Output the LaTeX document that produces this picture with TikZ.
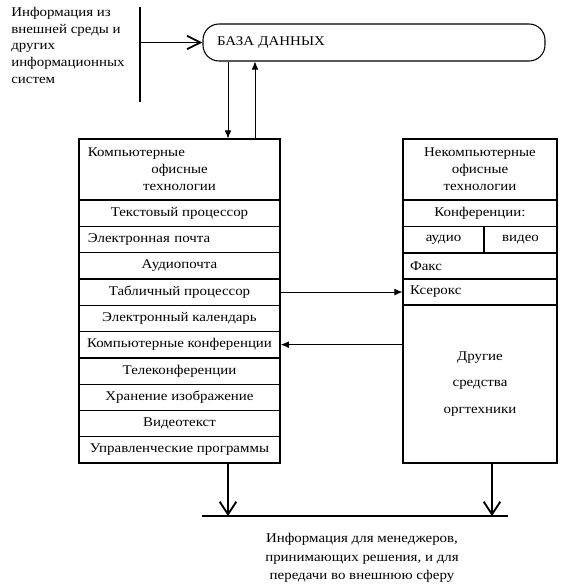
\documentclass[tikz,border=0pt]{standalone}
\usepackage{fontspec}
\setmainfont{Liberation Serif}[FakeStretch=1.12]
\usepackage{tikz}
\usetikzlibrary{arrows,arrows.meta}
\newcommand{\txt}{\fontsize{10}{12.75}\selectfont}
\tikzstyle{row} = [draw=black,thick,rectangle,minimum height=19.7pt,inner sep=3.33pt,font=\txt]
\tikzstyle{lrow} = [row,minimum width=150.75pt]
\tikzstyle{rrow} = [row,minimum width=115.5pt]
\tikzstyle{lhd} = [lrow,minimum height=45.75pt,align=left,text width=137.25pt]
\tikzstyle{rhd} = [rrow,minimum height=45.75pt,align=center]
\tikzstyle{base} = [draw=black,thick,rectangle,rounded corners=12pt,minimum height=27.75pt,inner xsep=10.5pt,align=left,text width=235.5pt,font=\txt]
\tikzstyle{edge} = [-{Latex[length=6pt,width=5pt]},semithick]
\tikzstyle{flow} = [-{Straight Barb[length=9.5pt,width=12.5pt]},line width=1.4pt]
\tikzstyle{bar} = [line width=1.4pt]

\begin{document}
\begin{tikzpicture}[x=0.75pt,y=-0.75pt]
\useasboundingbox (0,0) rectangle (562,587);

% source of outside information
\node[anchor=north west,align=left,inner sep=0pt,font=\fontsize{10}{12.5}\selectfont] (src) at (11,7) {
	Информация из\\внешней среды и\\других\\информационных\\систем
};
\draw[bar] (140,7) coordinate (s1) -- (140,102) coordinate (s2);
\coordinate (sj) at (140,42.5);

\node[base] (db) at (374,42.5) {БАЗА ДАННЫХ};
\draw[flow,-{Straight Barb[length=10pt,width=10pt]}] (sj) -- (db.west);

% computer office technologies
\node[lhd] (lhead) at (179.5,169.5) {
	Компьютерные\\\mbox{}\hfill офисные\hfill\mbox{}\\\mbox{}\hfill технологии\hfill\mbox{}
};
\node[lrow] (l1) at (179.5,213.15) {Текстовый процессор};
\node[lrow,align=left,text width=137.25pt] (l2) at (179.5,239.45) {Электронная почта};
\node[lrow,very thick] (l3) at (179.5,265.75) {Аудиопочта};
\node[lrow] (l4) at (179.5,292.05) {Табличный процессор};
\node[lrow] (l5) at (179.5,318.35) {Электронный календарь};
\node[lrow,very thick] (l6) at (179.5,344.65) {Компьютерные конференции};
\node[lrow] (l7) at (179.5,370.95) {Телеконференции};
\node[lrow] (l8) at (179.5,397.25) {Хранение изображение};
\node[lrow] (l9) at (179.5,423.55) {Видеотекст};
\node[lrow] (l10) at (179.5,449.85) {Управленческие программы};

% non-computer office technologies
\node[rhd] (rhead) at (480,169.5) {
	Некомпьютерные\\офисные\\технологии
};
\node[rrow] (r1) at (480,213.5) {Конференции:};
\node[row,minimum width=60.75pt] (audio) at (443.5,240) {аудио};
\node[row,minimum width=54.75pt] (video) at (520.5,240) {видео};
\node[rrow,align=left,text width=105pt] (fax) at (480,266) {Факс};
\node[rrow,align=left,text width=105pt] (xerox) at (480,292) {Ксерокс};
\node[rrow,minimum height=118.5pt,align=center] (other) at (480,384) {
	Другие\\[7pt]средства\\[7pt]оргтехники
};

\draw[edge] (228,0 |- db.south) -- (228,0 |- lhead.north);
\draw[edge] (255,0 |- lhead.north) -- (255,0 |- db.south);

\draw[edge] (l4.east) -- (l4.east -| xerox.west);
\draw[edge] (l6.east -| other.west) -- (l6.east);

% output to managers
\draw[bar] (202,516) coordinate (b1) -- (508,516) coordinate (b2);
\draw[flow] (228,0 |- l10.south) -- (228,0 |- b1);
\draw[flow] (492,0 |- other.south) -- (492,0 |- b1);

\node[align=center,font=\fontsize{10}{13.9}\selectfont] (dest) at (362,558) {
	Информация для менеджеров,\\принимающих решения, и для\\передачи во внешнюю сферу
};
\end{tikzpicture}
\end{document}
